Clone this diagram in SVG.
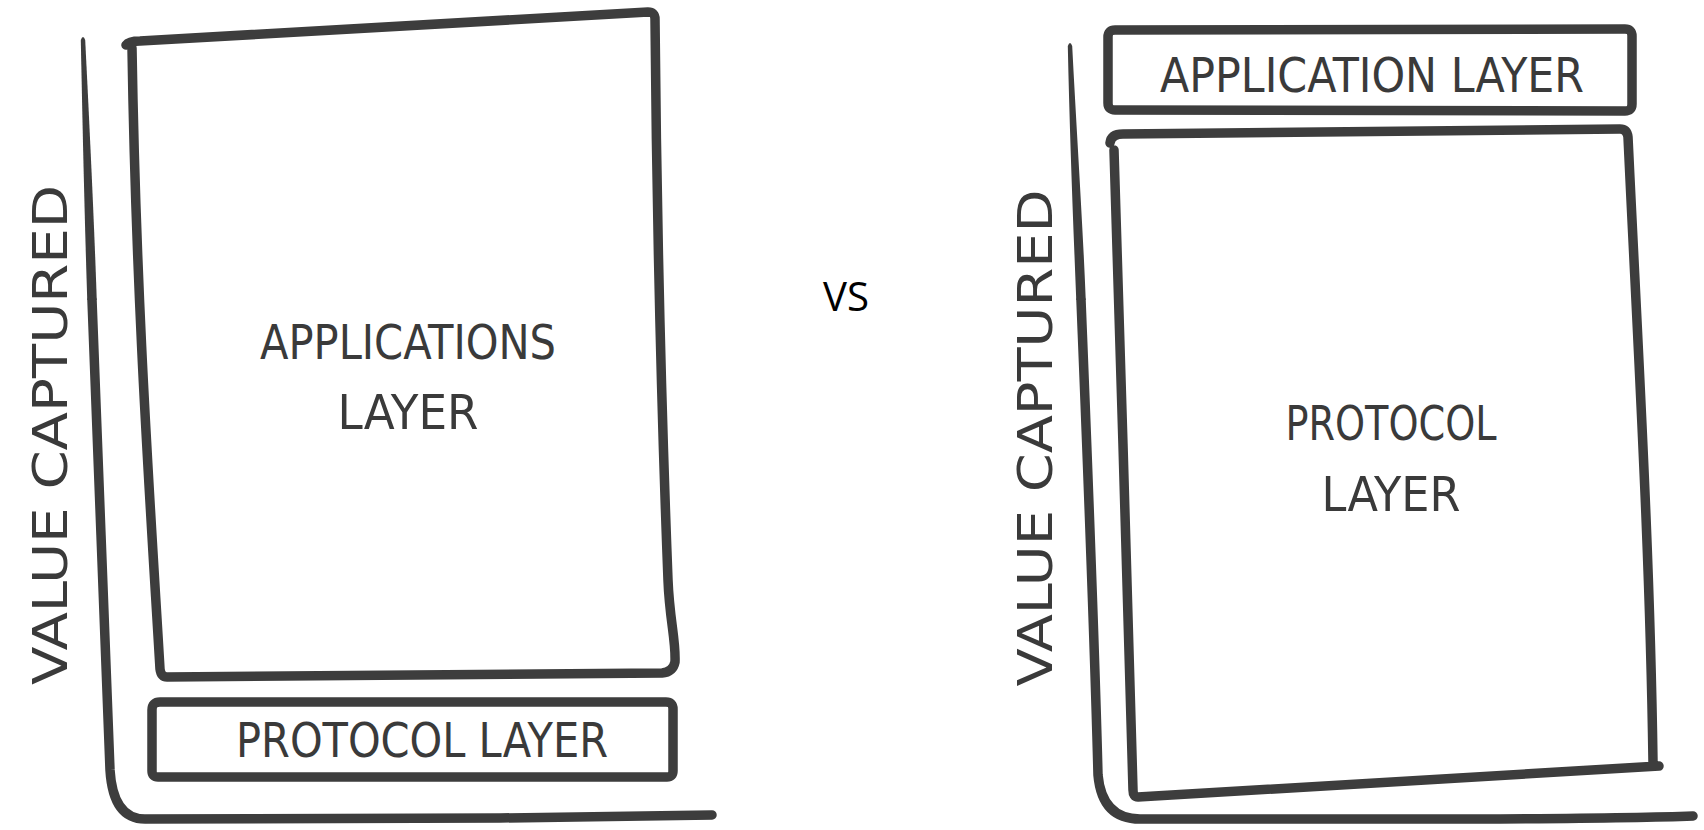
<svg xmlns="http://www.w3.org/2000/svg" width="1704" height="830" viewBox="0 0 1704 830">
<style>
.ln{fill:none;stroke:#3d3d3d;stroke-width:9.5;stroke-linecap:round;stroke-linejoin:round}
.tp{fill:#3d3d3d;stroke:none}
.hw{font-family:"DejaVu Sans Condensed","Liberation Sans",sans-serif;fill:#3a3a3a;text-anchor:middle;font-size:48px}
.vs{font-family:"Open Sans","Liberation Sans",sans-serif;fill:#000;text-anchor:middle;font-size:40px}
</style>
<rect width="1704" height="830" fill="#fff"/>
<g id="connectors">
<path class="tp" d="M80.8,40 Q83,34 85.2,40 C89.2,120 94.1,220 96.75,300 L87.25,300 C84.6,220 82.4,120 80.8,40 Z"/>
<path class="ln" d="M92,300 C97,450 105,620 110,770 Q113,819 145,819 L500,818 Q650,816 712,815"/>
<path class="tp" d="M1067.8,46 Q1070,40 1072.2,46 C1076.5,130 1082.55,220 1085.75,300 L1076.25,300 C1073.05,220 1069.6,130 1067.8,46 Z"/>
<path class="ln" d="M1081,300 C1087,450 1094,620 1098,775 Q1102,819 1140,819 L1500,819 Q1640,818 1693,816"/>
</g>
<g id="left-applications">
<path class="ln" d="M126,45 Q129,41 140,41 L648,12 Q655,12 655,19 C657,250 663,450 668,580 C669.5,620 676,640 675,662 Q673,672 662,673 L167,677 Q161,677 160,669 C150,500 136,300 132,48"/>
<text class="hw" x="408" y="359" textLength="296" lengthAdjust="spacingAndGlyphs">APPLICATIONS</text>
<text class="hw" x="408" y="429" textLength="141" lengthAdjust="spacingAndGlyphs">LAYER</text>
</g>
<g id="left-protocol">
<path class="ln" d="M160,702 L666,702 Q673,702 673,709 L673,771 Q673,777 667,777 L158,777 Q152,777 152,771 L152,710 Q152,702 160,702 Z"/>
<text class="hw" x="422" y="757" textLength="372" lengthAdjust="spacingAndGlyphs">PROTOCOL LAYER</text>
</g>
<g id="left-axis-label">
<text class="hw" transform="translate(67,435) rotate(-90)" x="0" y="0" font-size="58" textLength="500" lengthAdjust="spacingAndGlyphs">VALUE CAPTURED</text>
</g>
<g id="vs">
<text class="vs" x="846" y="311" textLength="46" lengthAdjust="spacingAndGlyphs">VS</text>
</g>
<g id="right-application">
<path class="ln" d="M1115,30 L1625,29 Q1632,29 1632,36 L1632,104 Q1632,111 1625,111 L1115,110 Q1108,110 1108,103 L1108,37 Q1108,30 1115,30 Z"/>
<text class="hw" x="1372" y="92" textLength="424" lengthAdjust="spacingAndGlyphs">APPLICATION LAYER</text>
</g>
<g id="right-protocol">
<path class="ln" d="M1110,143 Q1111,134 1123,134 L1620,129 Q1627,129 1628,137 C1638,350 1650,550 1653,762 M1659,766 L1138,797 Q1133,797 1133,790 C1128,600 1120,350 1114,150"/>
<text class="hw" x="1391" y="440" textLength="211" lengthAdjust="spacingAndGlyphs">PROTOCOL</text>
<text class="hw" x="1391" y="511" textLength="139" lengthAdjust="spacingAndGlyphs">LAYER</text>
</g>
<g id="right-axis-label">
<text class="hw" transform="translate(1052,438) rotate(-90)" x="0" y="0" font-size="58" textLength="497" lengthAdjust="spacingAndGlyphs">VALUE CAPTURED</text>
</g>
</svg>
